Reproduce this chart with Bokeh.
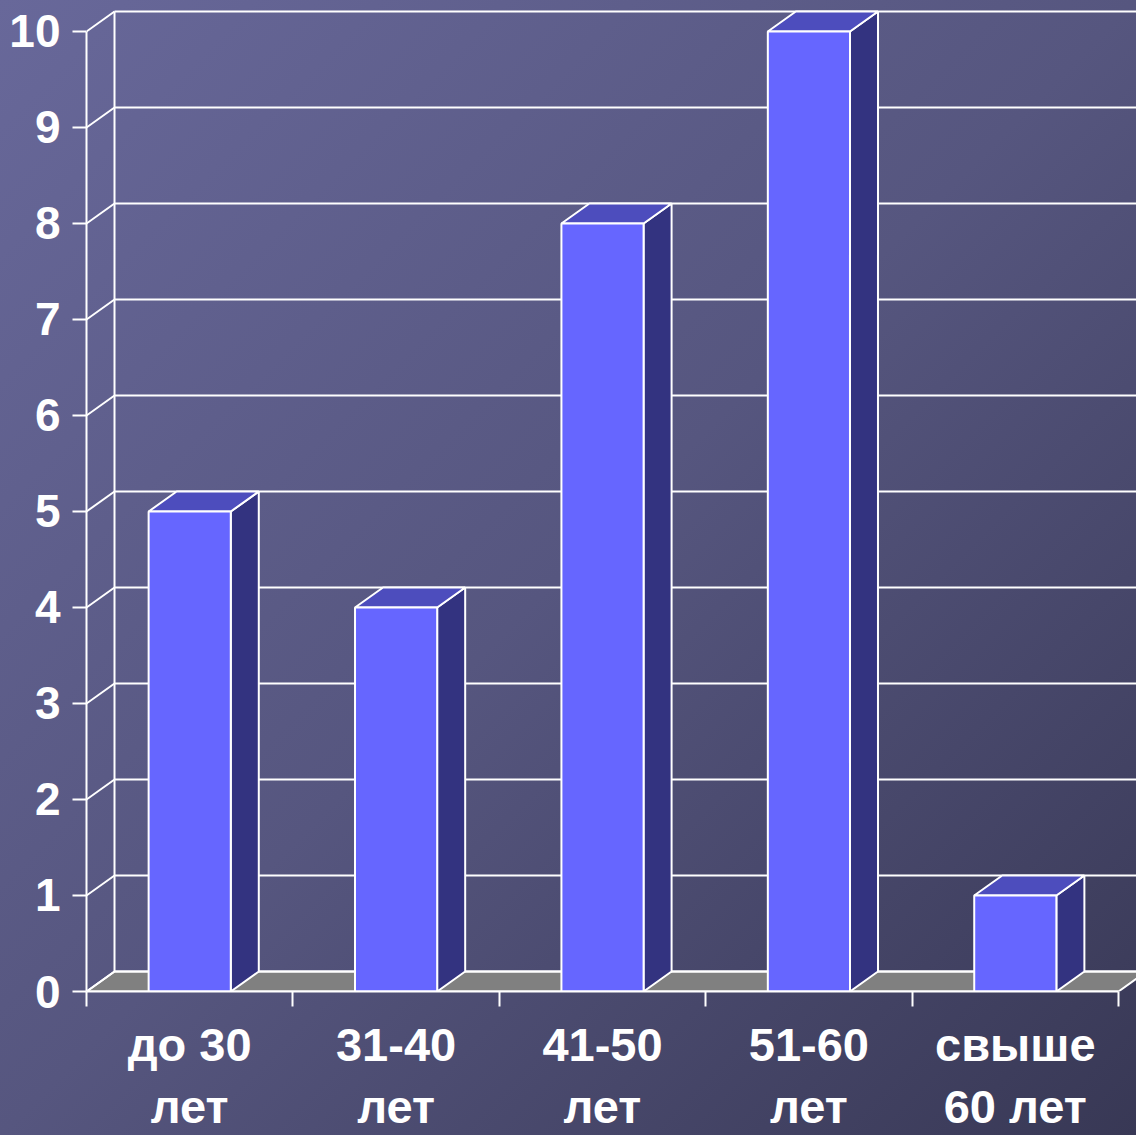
from bokeh.plotting import figure
from bokeh.models import Range1d, FixedTicker, LinearAxis
from bokeh.embed import file_html
from bokeh.resources import INLINE

# ---- data ----
categories = ["до 30\nлет", "31-40\nлет", "41-50\nлет", "51-60\nлет", "свыше\n60 лет"]
values = [5, 4, 8, 10, 1]
y_ticks = [0, 1, 2, 3, 4, 5, 6, 7, 8, 9, 10]

# ---- style / geometry constants ----
DX = 0.1357   # depth offset in x units
DY = 0.2083   # depth offset in y units
W = 0.199     # half bar width (category units)
FRONT = "#6666ff"
TOP = "#4d4dbd"
SIDE = "#333380"
FLOOR = "#808080"
FONT = "Liberation Sans"

n = len(categories)
centers = [i + 0.5 for i in range(n)]
ymax = max(y_ticks)

p = figure(width=1136, height=1135, output_backend="svg", toolbar_location=None,
           x_range=Range1d(0, 5.0872), y_range=Range1d(0, 10.3229),
           x_axis_type=None, y_axis_type=None,
           min_border_left=86, min_border_right=0, min_border_top=0, min_border_bottom=144)
p.background_fill_alpha = 0
p.border_fill_alpha = 0
p.outline_line_color = None
p.styles = {"background-image": "linear-gradient(135deg, #68689a 0%, #56567f 50%, #383855 100%)"}

# floor
p.patch([0, n, n + DX, DX], [0, 0, DY, DY], fill_color=FLOOR, line_color="white", line_width=2)
# back wall grid lines
p.segment(x0=[DX] * len(y_ticks), y0=[t + DY for t in y_ticks],
          x1=[n + 1] * len(y_ticks), y1=[t + DY for t in y_ticks],
          line_color="white", line_width=2)
# left wall lines
p.segment(x0=[0] * len(y_ticks), y0=y_ticks, x1=[DX] * len(y_ticks), y1=[t + DY for t in y_ticks],
          line_color="white", line_width=2)
p.segment(x0=[DX], y0=[DY], x1=[DX], y1=[ymax + DY], line_color="white", line_width=2)

# bars
p.patches(xs=[[c + W, c + W + DX, c + W + DX, c + W] for c in centers],
          ys=[[0, DY, v + DY, v] for v in values],
          fill_color=SIDE, line_color="white", line_width=2)
p.patches(xs=[[c - W, c + W, c + W + DX, c - W + DX] for c in centers],
          ys=[[v, v, v + DY, v + DY] for v in values],
          fill_color=TOP, line_color="white", line_width=2)
p.quad(left=[c - W for c in centers], right=[c + W for c in centers],
       bottom=[0] * n, top=values, fill_color=FRONT, line_color="white", line_width=2)

# y axis
yax = LinearAxis(ticker=FixedTicker(ticks=y_ticks, minor_ticks=[]), bounds=(0, ymax))
yax.axis_line_color = "white"
yax.axis_line_width = 2
yax.major_tick_line_color = "white"
yax.major_tick_line_width = 2
yax.major_tick_out = 14
yax.major_tick_in = 0
yax.minor_tick_line_color = None
yax.major_label_standoff = 12
yax.major_label_text_color = "white"
yax.major_label_text_font = FONT
yax.major_label_text_font_style = "bold"
yax.major_label_text_font_size = "46px"
p.add_layout(yax, "left")

# x axis
xax = LinearAxis(ticker=FixedTicker(ticks=centers, minor_ticks=list(range(n + 1))), bounds=(0, n))
xax.major_label_overrides = {c: lab for c, lab in zip(centers, categories)}
xax.axis_line_color = "white"
xax.axis_line_width = 2
xax.major_tick_line_color = None
xax.major_tick_out = 15
xax.major_tick_in = 0
xax.minor_tick_line_color = "white"
xax.minor_tick_line_width = 2
xax.minor_tick_out = 15
xax.minor_tick_in = 0
xax.major_label_standoff = 11
xax.major_label_text_color = "white"
xax.major_label_text_font = FONT
xax.major_label_text_font_style = "bold"
xax.major_label_text_font_size = "47px"
xax.major_label_text_line_height = 1.17
p.add_layout(xax, "below")

open("out.html", "w").write(file_html(p, INLINE))
